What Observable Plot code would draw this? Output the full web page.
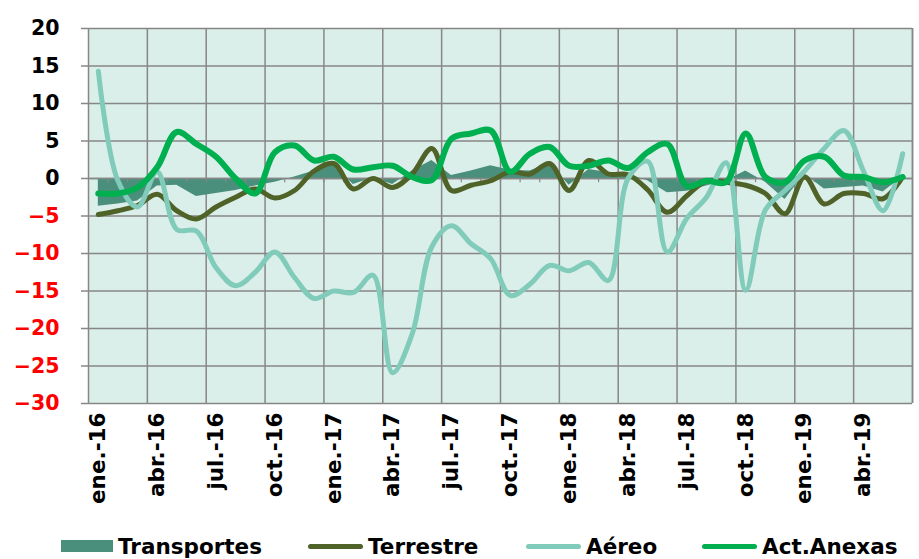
<!DOCTYPE html>
<html>
<head>
<meta charset="utf-8">
<script src="https://cdn.jsdelivr.net/npm/d3@7"></script>
<script src="https://cdn.jsdelivr.net/npm/@observablehq/plot@0.6"></script>
<style>
  body { margin: 0; background: #ffffff; font-family: "DejaVu Sans", Verdana, sans-serif; }
  #wrap { position: relative; width: 919px; height: 559px; overflow: hidden; }
  #legend { position: absolute; left: 0; top: 533px; width: 919px; height: 26px; font-weight: bold; font-size: 21.5px; color: #000; }
  .item { position: absolute; top: 0; height: 26px; display: flex; align-items: center; white-space: nowrap; }
  .sw-rect { display: inline-block; width: 52px; height: 12px; margin-right: 5px; }
  .sw-line { display: inline-block; width: 55px; height: 5px; border-radius: 3px; margin-right: 5px; }
</style>
</head>
<body>
<div id="wrap">
  <div id="chart"></div>
  <div id="legend"></div>
</div>
<script>
// ---- Data (monthly, ene-16 .. jun-19) ----
const months = [
  "ene.-16","feb.-16","mar.-16","abr.-16","may.-16","jun.-16","jul.-16","ago.-16","sep.-16","oct.-16","nov.-16","dic.-16",
  "ene.-17","feb.-17","mar.-17","abr.-17","may.-17","jun.-17","jul.-17","ago.-17","sep.-17","oct.-17","nov.-17","dic.-17",
  "ene.-18","feb.-18","mar.-18","abr.-18","may.-18","jun.-18","jul.-18","ago.-18","sep.-18","oct.-18","nov.-18","dic.-18",
  "ene.-19","feb.-19","mar.-19","abr.-19","may.-19","jun.-19"
];
const transportes = [-3.7,-3.4,-3.0,-1.0,-0.9,-2.4,-2.0,-1.6,-1.0,-0.5,0.2,1.0,1.8,-0.8,0.1,-0.8,1.0,2.4,0.4,1.0,1.7,1.1,1.0,2.0,-0.9,1.2,0.8,0.6,-0.3,-1.9,-1.7,-1.0,-0.3,1.0,-0.5,-2.8,0.6,-1.4,-1.2,-1.0,-1.8,0.2];
const terrestre = [-4.8,-4.3,-3.6,-2.1,-4.3,-5.4,-3.8,-2.5,-1.4,-2.6,-1.6,1.0,2.0,-1.4,0,-1.2,0.6,4.0,-1.6,-0.9,-0.3,0.9,0.6,2.0,-1.6,2.4,0.6,0.5,-1.5,-4.5,-2.3,-0.3,-0.5,-0.9,-2.0,-4.7,0.2,-3.4,-2.0,-2.0,-2.7,0.2];
const aereo = [14.3,-0.3,-3.8,0.9,-6.8,-7.0,-11.9,-14.3,-12.5,-9.8,-13.2,-16.0,-15.0,-15.2,-12.9,-25.9,-20.7,-9.1,-6.3,-8.7,-10.7,-15.6,-14.1,-11.6,-12.3,-11.2,-13.6,0,2.3,-9.8,-5.3,-2.5,2.1,-14.9,-4.2,-1.6,1.0,4.0,6.4,1.0,-4.3,3.3];
const anexas = [-2.0,-2.0,-1.2,1.5,6.2,4.6,2.9,0,-2.0,3.5,4.4,2.4,2.9,1.2,1.5,1.7,0.2,-0.2,5.3,6.0,6.4,0.9,3.3,4.2,1.7,1.7,2.4,1.4,3.5,4.6,-1.0,-0.3,-0.5,6.0,0.2,-0.5,2.4,2.9,0.4,0.2,-0.5,0.2];
const yTicks = [20,15,10,5,0,-5,-10,-15,-20,-25,-30];
const seriesNames = ["Transportes","Terrestre","Aéreo","Act.Anexas"];
const colors = {Transportes: "#4a8f7b", Terrestre: "#4f6228", "Aéreo": "#80cbb9", "Act.Anexas": "#00b050"};

// ---- Derived tables ----
const rows = months.map((m, i) => ({i, m, transportes: transportes[i], terrestre: terrestre[i], aereo: aereo[i], anexas: anexas[i]}));
const n = months.length;
const majorIdx = d3.range(0, n, 3);
const majorBounds = d3.range(-0.5, n, 3).concat([n - 0.5]);
const minorBounds = d3.range(0.5, n - 0.5, 1);
const gridC = "#878787";

const chart = Plot.plot({
  width: 919,
  height: 530,
  marginLeft: 88,
  marginRight: 7,
  marginTop: 28,
  marginBottom: 127,
  x: {type: "linear", domain: [-0.5, n - 0.5], label: null},
  y: {domain: [-30, 20], label: null},
  style: {fontFamily: "'DejaVu Sans', Verdana, sans-serif", fontWeight: "bold", fontSize: "20px", background: "transparent", color: "#000"},
  marks: [
    Plot.frame({fill: "#daeeea", stroke: null}),
    Plot.ruleY(yTicks, {stroke: gridC, strokeWidth: 1.5}),
    Plot.ruleX(majorBounds, {stroke: gridC, strokeWidth: 1.5}),
    Plot.areaY(rows, {x: "i", y: "transportes", fill: colors.Transportes}),
    Plot.ruleY([0], {stroke: gridC, strokeWidth: 1.5}),
    Plot.ruleX(minorBounds, {y1: 0, y2: -0.55, stroke: gridC, strokeWidth: 1.2}),
    Plot.lineY(rows, {x: "i", y: "terrestre", stroke: colors.Terrestre, strokeWidth: 5, curve: "catmull-rom"}),
    Plot.lineY(rows, {x: "i", y: "aereo", stroke: colors["Aéreo"], strokeWidth: 5, curve: "catmull-rom"}),
    Plot.lineY(rows, {x: "i", y: "anexas", stroke: colors["Act.Anexas"], strokeWidth: 6, curve: "catmull-rom"}),
    Plot.axisY(yTicks.filter(d => d >= 0), {tickSize: 7, tickPadding: 22, stroke: gridC, strokeWidth: 1.5, fill: "#000", fontSize: 20.5, fontWeight: "bold"}),
    Plot.axisY(yTicks.filter(d => d < 0), {tickSize: 7, tickPadding: 22, stroke: gridC, strokeWidth: 1.5, fill: "#ff0000", fontSize: 20.5, fontWeight: "bold"}),
    Plot.axisX(majorIdx, {tickSize: 0, tickPadding: 9, tickRotate: -90, tickFormat: i => months[i], fill: "#000", fontSize: 21.5, fontWeight: "bold"})
  ]
});
document.getElementById("chart").appendChild(chart);

// ---- Legend ----
const legendPos = {Transportes: 61, Terrestre: 308, "Aéreo": 526, "Act.Anexas": 702};
const legend = document.getElementById("legend");
seriesNames.forEach(name => {
  const it = document.createElement("div");
  it.className = "item";
  it.style.left = legendPos[name] + "px";
  const sw = document.createElement("span");
  sw.className = name === "Transportes" ? "sw-rect" : "sw-line";
  sw.style.background = colors[name];
  it.appendChild(sw);
  const t = document.createElement("span");
  t.textContent = name;
  it.appendChild(t);
  legend.appendChild(it);
});
</script>
</body>
</html>
